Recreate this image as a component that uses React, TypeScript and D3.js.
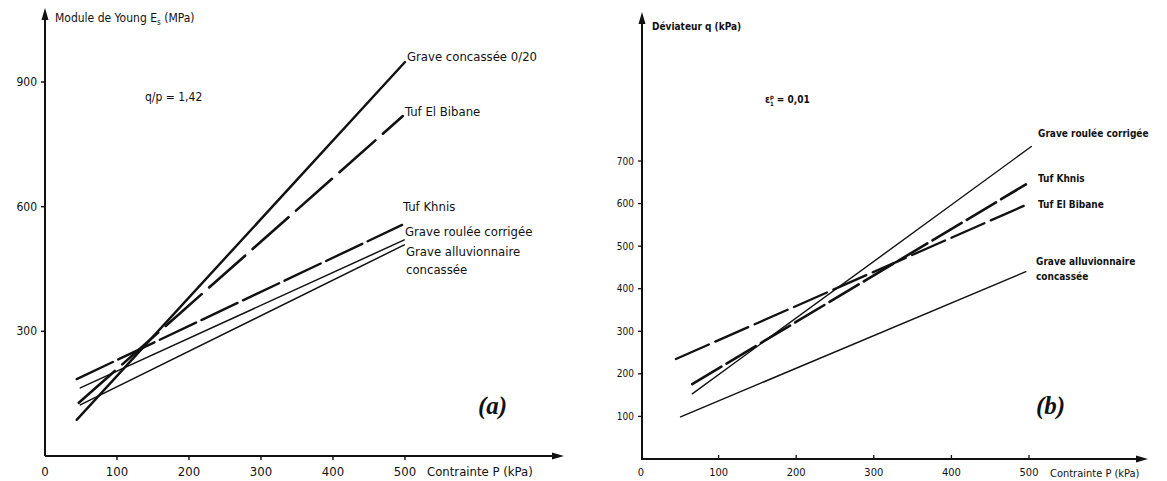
import React from "react";
import * as d3 from "d3";

// ---------- Data ----------
// Panel (a): Module de Young Es (MPa) vs Contrainte P (kPa)
const seriesA = ["Grave concassée 0/20", "Tuf El Bibane", "Tuf Khnis", "Grave roulée corrigée", "Grave alluvionnaire concassée"];
const pStartA = [44, 47, 44, 49, 49];
const eStartA = [87, 128, 185, 164, 123];
const pEndA = [500, 497, 496, 499, 499];
const eEndA = [948, 818, 556, 520, 508];
const xTicksA = [0, 100, 200, 300, 400, 500];
const yTicksA = [300, 600, 900];

// Panel (b): Déviateur q (kPa) vs Contrainte P (kPa)
const seriesB = ["Grave roulée corrigée", "Tuf Khnis", "Tuf El Bibane", "Grave alluvionnaire concassée"];
const pStartB = [66, 66, 45, 51];
const qStartB = [153, 176, 235, 99];
const pEndB = [503, 496, 500, 496];
const qEndB = [734, 645, 600, 440];
const xTicksB = [0, 100, 200, 300, 400, 500];
const yTicksB = [100, 200, 300, 400, 500, 600, 700];

// ---------- Styles ----------
const styleA: Record<string, { w: number; dash?: string }> = {
  "Grave concassée 0/20": { w: 2.4 },
  "Tuf El Bibane": { w: 2.6, dash: "48,10" },
  "Tuf Khnis": { w: 2.4, dash: "40,6" },
  "Grave roulée corrigée": { w: 1.5 },
  "Grave alluvionnaire concassée": { w: 1.5 },
};
const styleB: Record<string, { w: number; dash?: string }> = {
  "Grave roulée corrigée": { w: 1.4 },
  "Tuf Khnis": { w: 2.6, dash: "34,6" },
  "Tuf El Bibane": { w: 2.3, dash: "36,7" },
  "Grave alluvionnaire concassée": { w: 1.4 },
};

const FONT = "'DejaVu Sans Condensed', 'Liberation Sans Narrow', 'DejaVu Sans', sans-serif";
const INK = "#111";

export default function App() {
  const xA = d3.scaleLinear().domain([0, 500]).range([45, 405]);
  const yA = d3.scaleLinear().domain([0, 900]).range([456, 82]);
  const xB = d3.scaleLinear().domain([0, 500]).range([641, 1029]);
  const yB = d3.scaleLinear().domain([0, 700]).range([459, 161]);

  const lineGen = d3.line<[number, number]>();

  const labelsA = [
    { t: "Grave concassée 0/20", x: 407, y: 61 },
    { t: "Tuf El Bibane", x: 405, y: 116 },
    { t: "Tuf Khnis", x: 403, y: 211 },
    { t: "Grave roulée corrigée", x: 405, y: 236 },
    { t: "Grave alluvionnaire", x: 406, y: 256 },
    { t: "concassée", x: 406, y: 274 },
  ];
  const labelsB = [
    { t: "Grave roulée corrigée", x: 1038, y: 137 },
    { t: "Tuf Khnis", x: 1038, y: 182 },
    { t: "Tuf El Bibane", x: 1038, y: 208 },
    { t: "Grave alluvionnaire", x: 1036, y: 265 },
    { t: "concassée", x: 1036, y: 280 },
  ];

  return (
    <svg width={1167} height={481} style={{ position: "absolute", left: 0, top: 0, background: "#fff" }}>
      <rect x={0} y={0} width={1167} height={481} fill="#fff" />

      {/* ---------------- Panel (a) ---------------- */}
      <g>
        <line x1={xA(0)} y1={yA(0)} x2={xA(0)} y2={16} stroke={INK} strokeWidth={2} />
        <polygon points={`${xA(0) - 3.5},${20} ${xA(0) + 3.5},${20} ${xA(0)},${8}`} fill={INK} />
        <line x1={xA(0)} y1={yA(0)} x2={556} y2={yA(0)} stroke={INK} strokeWidth={2} />
        <polygon points={`${552},${yA(0) - 3.5} ${552},${yA(0) + 3.5} ${564},${yA(0)}`} fill={INK} />

        {yTicksA.map((v) => (
          <g key={v}>
            <line x1={xA(0) - 4} x2={xA(0)} y1={yA(v)} y2={yA(v)} stroke={INK} strokeWidth={1.5} />
            <text x={xA(0) - 8} y={yA(v) + 4} fontFamily={FONT} fontSize={12} textAnchor="end" fill={INK}>{v}</text>
          </g>
        ))}
        {xTicksA.map((v) => (
          <g key={v}>
            {v > 0 && <line x1={xA(v)} x2={xA(v)} y1={yA(0)} y2={yA(0) + 4} stroke={INK} strokeWidth={1.5} />}
            <text x={xA(v)} y={476} fontFamily={FONT} fontSize={13} textAnchor="middle" fill={INK}>{v}</text>
          </g>
        ))}
        <text x={427} y={476} fontFamily={FONT} fontSize={13} fill={INK}>Contrainte P (kPa)</text>

        <text x={55} y={22} fontFamily={FONT} fontSize={12} fill={INK}>
          Module de Young E<tspan fontSize={8} dy={3}>s</tspan><tspan dy={-3}> (MPa)</tspan>
        </text>
        <text x={145} y={101} fontFamily={FONT} fontSize={12} fill={INK}>q/p = 1,42</text>

        {seriesA.map((s, i) => {
          const st = styleA[s];
          const d = lineGen([
            [xA(pStartA[i]), yA(eStartA[i])],
            [xA(pEndA[i]), yA(eEndA[i])],
          ]);
          return <path key={s} d={d || ""} fill="none" stroke={INK} strokeWidth={st.w} strokeDasharray={st.dash} strokeLinecap="round" />;
        })}

        {labelsA.map((l) => (
          <text key={l.t + l.y} x={l.x} y={l.y} fontFamily={FONT} fontSize={13} fill={INK}>{l.t}</text>
        ))}

        <text x={478} y={414} fontFamily="'Liberation Serif', 'DejaVu Serif', serif" fontStyle="italic" fontWeight="bold" fontSize={25} fill={INK}>(a)</text>
      </g>

      {/* ---------------- Panel (b) ---------------- */}
      <g>
        <line x1={xB(0) + 1} y1={yB(0)} x2={xB(0) + 1} y2={20} stroke={INK} strokeWidth={2} />
        <polygon points={`${xB(0) + 1 - 3.5},${24} ${xB(0) + 1 + 3.5},${24} ${xB(0) + 1},${12}`} fill={INK} />
        <line x1={xB(0)} y1={yB(0)} x2={1140} y2={yB(0)} stroke={INK} strokeWidth={2} />
        <polygon points={`${1136},${yB(0) - 3.5} ${1136},${yB(0) + 3.5} ${1148},${yB(0)}`} fill={INK} />

        {yTicksB.map((v) => (
          <g key={v}>
            <line x1={xB(0) - 3} x2={xB(0) + 1} y1={yB(v)} y2={yB(v)} stroke={INK} strokeWidth={1.3} />
            <text x={xB(0) - 7} y={yB(v) + 3.5} fontFamily={FONT} fontSize={10} textAnchor="end" fill={INK}>{v}</text>
          </g>
        ))}
        {xTicksB.map((v) => (
          <g key={v}>
            {v > 0 && <line x1={xB(v)} x2={xB(v)} y1={yB(0)} y2={yB(0) - 4} stroke={INK} strokeWidth={1.3} />}
            <text x={xB(v)} y={476} fontFamily={FONT} fontSize={11} textAnchor="middle" fill={INK}>{v}</text>
          </g>
        ))}
        <text x={1050} y={477} fontFamily={FONT} fontSize={11} fill={INK}>Contrainte P (kPa)</text>

        <text x={652} y={30} fontFamily={FONT} fontSize={10} fontWeight="bold" fill={INK}>Déviateur q (kPa)</text>
        <text x={765} y={103} fontFamily={FONT} fontSize={10} fontWeight="bold" fill={INK}>
          ε<tspan fontSize={6} dy={-4}>p</tspan><tspan fontSize={6} dx={-4} dy={7}>1</tspan><tspan dy={-3}> = 0,01</tspan>
        </text>

        {seriesB.map((s, i) => {
          const st = styleB[s];
          const d = lineGen([
            [xB(pStartB[i]), yB(qStartB[i])],
            [xB(pEndB[i]), yB(qEndB[i])],
          ]);
          return <path key={s} d={d || ""} fill="none" stroke={INK} strokeWidth={st.w} strokeDasharray={st.dash} strokeLinecap="round" />;
        })}

        {labelsB.map((l) => (
          <text key={l.t + l.y} x={l.x} y={l.y} fontFamily={FONT} fontSize={10} fontWeight="bold" fill={INK}>{l.t}</text>
        ))}

        <text x={1036} y={414} fontFamily="'Liberation Serif', 'DejaVu Serif', serif" fontStyle="italic" fontWeight="bold" fontSize={25} fill={INK}>(b)</text>
      </g>
    </svg>
  );
}
